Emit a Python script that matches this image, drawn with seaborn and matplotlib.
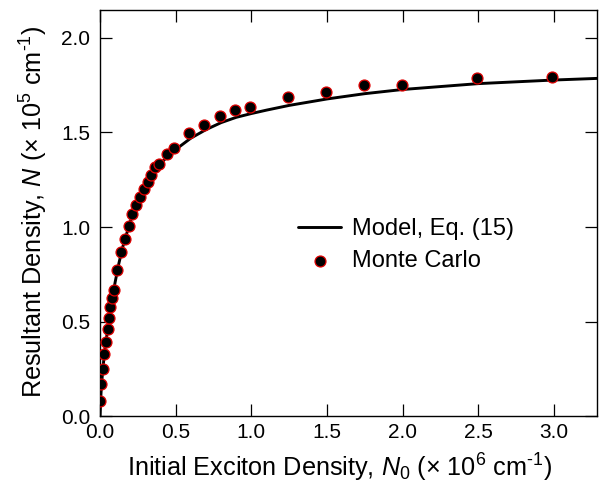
import numpy as np
import pandas as pd
import matplotlib
matplotlib.use("Agg")
import matplotlib.pyplot as plt
import seaborn as sns

# Monte Carlo data (N0 in 1e6 cm^-1, N in 1e5 cm^-1)
mc_n0 = [0.002, 0.009, 0.020, 0.028, 0.038, 0.051, 0.060, 0.068, 0.077, 0.091,
         0.114, 0.139, 0.165, 0.190, 0.214, 0.240, 0.265, 0.291, 0.316, 0.340,
         0.364, 0.390, 0.441, 0.490, 0.589, 0.690, 0.792, 0.889, 0.991, 1.240,
         1.491, 1.741, 1.992, 2.490, 2.989]
mc_n = [0.083, 0.171, 0.251, 0.328, 0.394, 0.460, 0.518, 0.576, 0.625, 0.667,
        0.776, 0.868, 0.940, 1.007, 1.070, 1.116, 1.160, 1.204, 1.239, 1.274,
        1.318, 1.336, 1.385, 1.419, 1.495, 1.542, 1.586, 1.616, 1.632, 1.685,
        1.712, 1.752, 1.752, 1.789, 1.792]

# Model curve
model_n0 = [0.0, 0.005, 0.01, 0.02, 0.03, 0.04, 0.06, 0.08, 0.10, 0.125, 0.15,
            0.20, 0.25, 0.30, 0.35, 0.40, 0.45, 0.50, 0.60, 0.70, 0.80, 0.90,
            1.0, 1.1, 1.25, 1.5, 1.75, 2.0, 2.5, 3.0, 3.3]
model_n = [0.0, 0.10, 0.17, 0.26, 0.34, 0.40, 0.51, 0.62, 0.71, 0.81, 0.895,
           1.03, 1.135, 1.215, 1.28, 1.335, 1.377, 1.41, 1.47, 1.515, 1.552, 1.58,
           1.60, 1.618, 1.643, 1.677, 1.705, 1.727, 1.758, 1.777, 1.786]

xticks = [0.0, 0.5, 1.0, 1.5, 2.0, 2.5, 3.0]
yticks = [0.0, 0.5, 1.0, 1.5, 2.0]

sns.set_style("ticks")
plt.rcParams['font.family'] = ['Liberation Sans', 'DejaVu Sans']
plt.rcParams['mathtext.fontset'] = 'custom'
plt.rcParams['mathtext.rm'] = 'Liberation Sans'
plt.rcParams['mathtext.it'] = 'Liberation Sans:italic'
plt.rcParams['text.color'] = 'black'
plt.rcParams['axes.labelcolor'] = 'black'
plt.rcParams['xtick.color'] = 'black'
plt.rcParams['ytick.color'] = 'black'
plt.rcParams['axes.edgecolor'] = 'black'

fig = plt.figure(figsize=(6.0, 4.83), dpi=100)
ax = fig.add_axes([0.1667, 0.1377, 0.8283, 0.8413])

model_df = pd.DataFrame({"N0": model_n0, "N": model_n})
mc_df = pd.DataFrame({"N0": mc_n0, "N": mc_n})

sns.lineplot(data=model_df, x="N0", y="N", ax=ax, color="black", lw=2.1,
             label="Model, Eq. (15)", zorder=2, sort=False)
sns.scatterplot(data=mc_df, x="N0", y="N", ax=ax, color="black",
                edgecolor="#e00000", linewidth=0.9, s=62, zorder=3,
                label="Monte Carlo")

ax.set_xlim(0.0, 3.283)
ax.set_ylim(0.0, 2.146)
ax.set_xticks(xticks)
ax.set_xticklabels([f"{v:.1f}" for v in xticks])
ax.set_yticks(yticks)
ax.set_yticklabels([f"{v:.1f}" for v in yticks])

ax.tick_params(axis='both', which='major', direction='in', length=8.5,
               width=0.9, labelsize=15, top=True, right=True, colors='black')
ax.tick_params(axis='x', pad=5)
ax.tick_params(axis='y', pad=7)
for sp in ax.spines.values():
    sp.set_visible(True)
    sp.set_linewidth(1.0)
    sp.set_color('black')

ax.set_xlabel('Initial Exciton Density, $\\mathit{N}_{\\mathrm{0}}$ (× 10$^{\\mathrm{6}}$ cm$^{\\mathrm{\u20101}}$)',
              fontsize=18.2)
ax.set_ylabel('Resultant Density, $\\mathit{N}$ (× 10$^{\\mathrm{5}}$ cm$^{\\mathrm{\u20101}}$)',
              fontsize=18.2)
ax.xaxis.set_label_coords(0.482, -0.086)
ax.yaxis.set_label_coords(-0.100, 0.504)

leg = ax.legend(loc='center left', bbox_to_anchor=(0.398, 0.422), frameon=False,
                fontsize=17, handlelength=1.85, handletextpad=0.45,
                labelspacing=0.4, borderpad=0, borderaxespad=0, markerscale=1.0)

fig.savefig("out.png", dpi=100)
